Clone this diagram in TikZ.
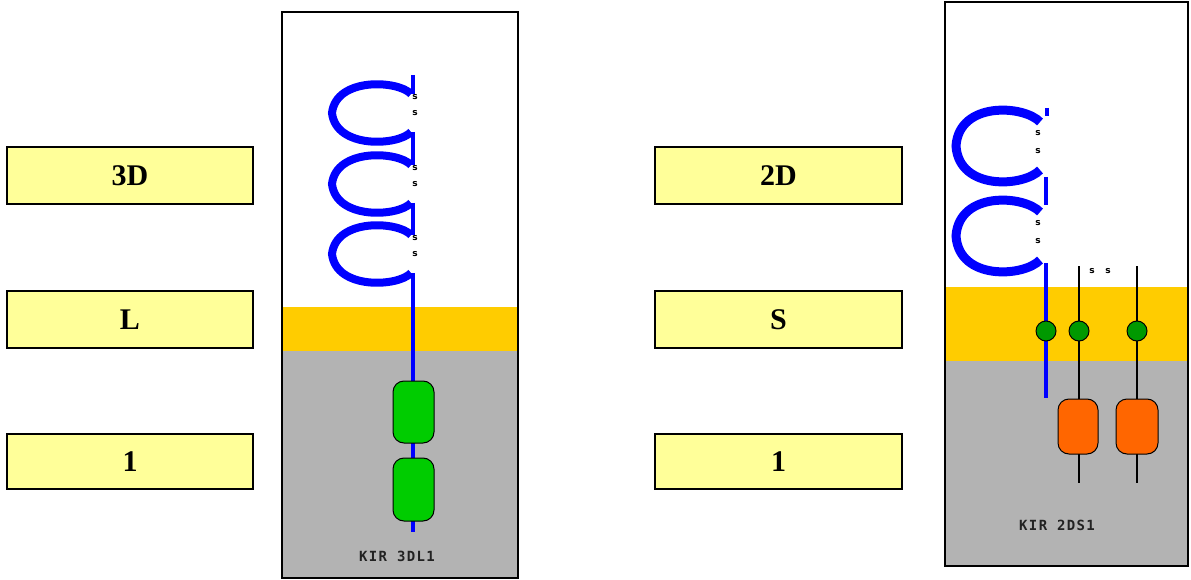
\documentclass[tikz,border=0pt]{standalone}
\usepackage{fontspec}
\setmainfont{Liberation Serif}
\newfontfamily\pixfont[LetterSpace=10]{DejaVu Sans Mono}
\newfontfamily\ssfont{DejaVu Sans}
\definecolor{boxyellow}{HTML}{FFFF99}
\definecolor{band}{HTML}{FFCC00}
\definecolor{cyto}{HTML}{B3B3B3}
\definecolor{igblue}{HTML}{0000FF}
\definecolor{domgreen}{HTML}{00CC00}
\definecolor{dotgreen}{HTML}{009900}
\definecolor{domorange}{HTML}{FF6600}
\definecolor{labgray}{HTML}{222222}
\begin{document}
\begin{tikzpicture}[x=1pt,y=-1pt,
  labelbox/.style={draw=black,line width=1.5pt,fill=boxyellow,minimum width=246pt,
    minimum height=57pt,inner sep=0pt,font=\fontsize{30}{30}\selectfont\bfseries},
  panel/.style={draw=black,line width=1.5pt},
  stem/.style={igblue,line width=4pt},
  loopL/.style={igblue,line width=8pt},
  loopR/.style={igblue,line width=9pt},
  chain/.style={black,line width=2pt},
  ss/.style={inner sep=0pt,font=\ssfont\bfseries\fontsize{9}{9}\selectfont},
  igdomain/.style={draw=black,line width=1pt,rounded corners=11pt,inner sep=0pt},
  gdot/.style={circle,draw=black,line width=1pt,fill=dotgreen,minimum size=20pt,inner sep=0pt},
  kir/.style={inner sep=0pt,text=labgray,font=\pixfont\bfseries\fontsize{14}{14}\selectfont}
]
\useasboundingbox (0,0) rectangle (1191,580);

% ---- left label boxes
\node[labelbox] (b3D) at (130,175.5) {3D};
\node[labelbox] (bL)  at (130,319.5) {L};
\node[labelbox,minimum height=55pt] (b1L) at (130,461.5) {1};
% ---- right label boxes
\node[labelbox,minimum width=247pt] (b2D) at (778.5,175.5) {2D};
\node[labelbox,minimum width=247pt] (bS)  at (778.5,319.5) {S};
\node[labelbox,minimum width=247pt,minimum height=55pt] (b1R) at (778.5,461.5) {1};

% ---- left panel (KIR 3DL1)
\fill[white] (282,12) rectangle (518,578);
\fill[band] (282,307) rectangle (518,351);
\fill[cyto] (282,351) rectangle (518,578);
\coordinate (Ltop) at (413,75);
\coordinate (Lbot) at (413,532);
\draw[stem] (Ltop) -- (413,94);
\draw[stem] (413,132) -- (413,165);
\draw[stem] (413,203) -- (413,235);
\draw[stem] (413,273) -- (Lbot);
\foreach \cy in {113,184,254} {
  \draw[loopL] (411,\cy-19) .. controls (398,\cy-33) and (336,\cy-36) .. (332,\cy)
     .. controls (336,\cy+36) and (398,\cy+33) .. (411,\cy+19);
  \node[ss] (sLa\cy) at (415,\cy-16) {s};
  \node[ss] (sLb\cy) at (415,\cy) {s};
}
\node[igdomain,fill=domgreen,minimum width=41pt,minimum height=62pt] (dL1) at (413.5,412) {};
\node[igdomain,fill=domgreen,minimum width=41pt,minimum height=63pt] (dL2) at (413.5,489.5) {};
\node[kir] (kirL) at (397,556) {KIR 3DL1};
\draw[panel] (282,12) rectangle (518,578);

% ---- right panel (KIR 2DS1)
\fill[white] (945,2) rectangle (1188,566);
\fill[band] (945,287) rectangle (1188,361);
\fill[cyto] (945,361) rectangle (1188,566);
\coordinate (Rtop) at (1047,108);
\coordinate (Rbot) at (1046,398);
\draw[stem] (Rtop) -- (1047,116);
\draw[stem] (1046,177) -- (1046,205);
\draw[stem] (1046,263) -- (Rbot);
\foreach \cy in {146,236} {
  \draw[loopR] (1040,\cy-24) .. controls (1024,\cy-41) and (959,\cy-45) .. (956,\cy)
     .. controls (959,\cy+45) and (1024,\cy+41) .. (1040,\cy+24);
  \node[ss] (sRa\cy) at (1038,\cy-13) {s};
  \node[ss] (sRb\cy) at (1038,\cy+5) {s};
}
\coordinate (c1top) at (1079,266);
\coordinate (c1bot) at (1079,483);
\coordinate (c2top) at (1137,266);
\coordinate (c2bot) at (1137,483);
\draw[chain] (c1top) -- (c1bot);
\draw[chain] (c2top) -- (c2bot);
\node[ss] (sRc) at (1092,271) {s};
\node[ss] (sRd) at (1108,271) {s};
\node[gdot] (g1) at (1046,331) {};
\node[gdot] (g2) at (1079,331) {};
\node[gdot] (g3) at (1137,331) {};
\node[igdomain,fill=domorange,minimum width=40pt,minimum height=55pt] (dR1) at (1078,426.5) {};
\node[igdomain,fill=domorange,minimum width=42pt,minimum height=55pt] (dR2) at (1137,426.5) {};
\node[kir] (kirR) at (1057,525) {KIR 2DS1};
\draw[panel] (945,2) rectangle (1188,566);
\end{tikzpicture}
\end{document}
